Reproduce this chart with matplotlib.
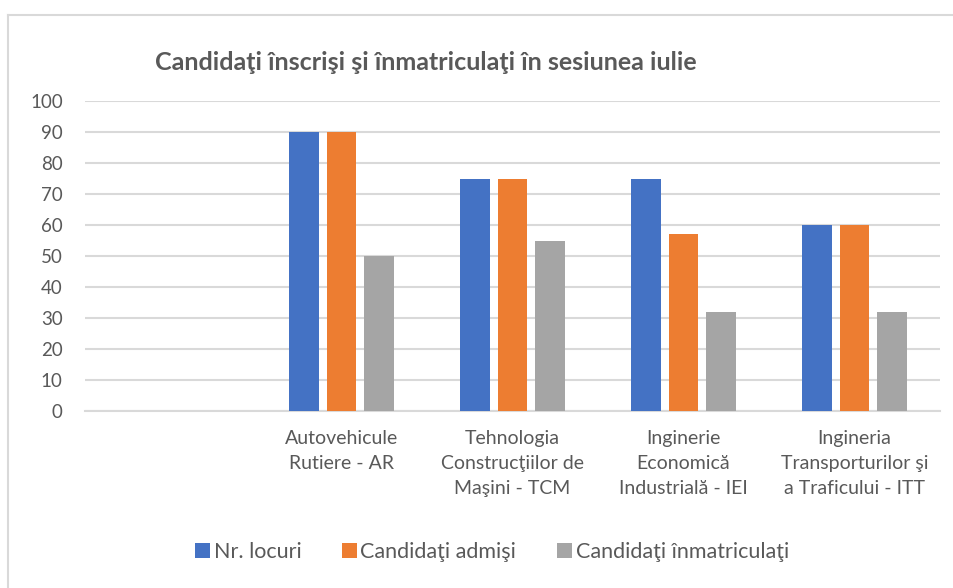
import matplotlib.pyplot as plt
import matplotlib.lines as mlines
import numpy as np

plt.rcParams['font.family'] = ['Lato', 'DejaVu Sans']

categories = ['',
              'Autovehicule\nRutiere - AR',
              'Tehnologia\nConstrucţiilor de\nMaşini - TCM',
              'Inginerie\nEconomică\nIndustrială - IEI',
              'Ingineria\nTransporturilor şi\na Traficului - ITT']
nr_locuri = [np.nan, 90, 75, 75, 60]
admisi = [np.nan, 90, 75, 57, 60]
inmatriculati = [np.nan, 50, 55, 32, 32]

series_names = ['Nr. locuri', 'Candidaţi admişi', 'Candidaţi înmatriculaţi']
colors = ['#4472C4', '#ED7D31', '#A5A5A5']
text_color = '#595959'

fig = plt.figure(figsize=(9.54, 5.88), dpi=100)
ax = fig.add_axes([85 / 954, 1 - 411 / 588, (940 - 85) / 954, (411 - 101) / 588])

x = np.arange(len(categories))
width = 0.175
step = 0.222
for i, (vals, name, col) in enumerate(zip([nr_locuri, admisi, inmatriculati], series_names, colors)):
    ax.bar(x + (i - 1) * step, vals, width, color=col, label=name, zorder=3)

ax.set_xlim(-0.5, len(categories) - 0.5)
ax.set_ylim(0, 100)
ax.set_yticks(range(0, 101, 10))
ax.set_xticks(x)
ax.set_xticklabels(categories, linespacing=1.55)
ax.yaxis.grid(True, color='#D9D9D9', linewidth=1.5, zorder=0)
for s in ['top', 'right', 'left']:
    ax.spines[s].set_visible(False)
ax.spines['bottom'].set_color('#D9D9D9')
ax.spines['bottom'].set_linewidth(1.5)
ax.tick_params(axis='both', length=0, labelsize=13.5, colors=text_color)
ax.tick_params(axis='x', labelsize=14)
ax.tick_params(axis='y', pad=16)
ax.tick_params(axis='x', pad=14)

fig.text(426 / 954, 1 - 62 / 588, 'Candidaţi înscrişi şi înmatriculaţi în sesiunea iulie',
         ha='center', va='center', fontsize=18, fontweight='bold', color=text_color)

ax.legend(loc='center', bbox_to_anchor=(492 / 954, 1 - 552 / 588), bbox_transform=fig.transFigure,
          ncol=3, frameon=False, fontsize=15.5, labelcolor=text_color,
          handlelength=0.7, handleheight=0.7, handletextpad=0.15, columnspacing=1.9)

# chart area border (top and left edges visible)
fig.add_artist(mlines.Line2D([8 / 954, 1], [1 - 15 / 588, 1 - 15 / 588], color='#D9D9D9', linewidth=1.5))
fig.add_artist(mlines.Line2D([8 / 954, 8 / 954], [0, 1 - 15 / 588], color='#D9D9D9', linewidth=1.5))

fig.savefig('out.png', dpi=100)
